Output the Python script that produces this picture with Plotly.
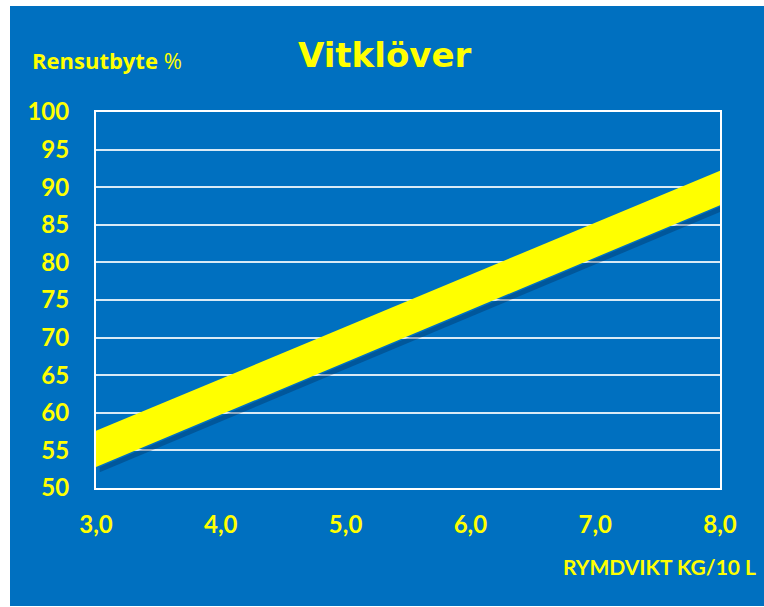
import plotly.graph_objects as go

# Data
x_vals = [3.0, 8.0]
band_lower = [52.8, 87.6]
band_upper = [57.6, 92.2]
x_ticks = [3, 4, 5, 6, 7, 8]
x_tick_labels = ["3,0", "4,0", "5,0", "6,0", "7,0", "8,0"]
y_ticks = [50, 55, 60, 65, 70, 75, 80, 85, 90, 95, 100]
y_tick_labels = [str(v) for v in y_ticks]

title_text = "Vitklöver"
y_title = "Rensutbyte %"
x_title = "RYMDVIKT KG/10 L"

BLUE = "#0070C0"
YELLOW = "#FFFF00"
FONT = "Lato"

fig = go.Figure()

# shadow under the band
fig.add_trace(go.Scatter(x=[x + 0.03 for x in x_vals], y=[v - 0.7 for v in band_lower],
                         mode="lines", line=dict(width=0), hoverinfo="skip", showlegend=False))
fig.add_trace(go.Scatter(x=[x + 0.03 for x in x_vals], y=band_lower,
                         mode="lines", line=dict(width=0), fill="tonexty",
                         fillcolor="rgba(0,30,70,0.3)", hoverinfo="skip", showlegend=False))

# band
fig.add_trace(go.Scatter(x=x_vals, y=band_lower, mode="lines", line=dict(width=0),
                         hoverinfo="skip", showlegend=False))
fig.add_trace(go.Scatter(x=x_vals, y=band_upper, mode="lines", line=dict(width=0),
                         fill="tonexty", fillcolor=YELLOW, hoverinfo="skip", showlegend=False))

L, R, T, B = 96, 44, 112, 119
W, H = 764, 607
pw, ph = W - L - R, H - T - B

def px_x(px):
    return (px - L) / pw

def px_y(py):
    return (H - B - py) / ph

fig.update_layout(
    width=W, height=H,
    margin=dict(l=L, r=R, t=T, b=B),
    paper_bgcolor="white",
    plot_bgcolor=BLUE,
    showlegend=False,
    shapes=[dict(type="rect", xref="paper", yref="paper",
                 x0=px_x(10), x1=px_x(764), y0=px_y(606), y1=px_y(6),
                 fillcolor=BLUE, line=dict(width=0), layer="below")],
    annotations=[
        dict(text="<b>" + title_text + "</b>", xref="paper", yref="paper",
             x=px_x(384), y=px_y(55), xanchor="center", yanchor="middle", showarrow=False,
             font=dict(family="DejaVu Sans", size=34, color=YELLOW)),
        dict(text="<b>Rensutbyte</b> %", xref="paper", yref="paper",
             x=px_x(30), y=px_y(60), xanchor="left", yanchor="middle", showarrow=False,
             font=dict(family="Open Sans", size=22, color=YELLOW)),
        dict(text="<b>" + x_title + "</b>", xref="paper", yref="paper",
             x=px_x(758), y=px_y(566), xanchor="right", yanchor="middle", showarrow=False,
             font=dict(family=FONT, size=21, color=YELLOW)),
    ],
)

fig.update_xaxes(range=[3, 8], tickvals=x_ticks, ticktext=["<b>%s</b>" % t for t in x_tick_labels],
                 showgrid=False, zeroline=False, showline=True, mirror=True,
                 linecolor="white", linewidth=2, layer="below traces",
                 tickfont=dict(family=FONT, size=24, color=YELLOW), ticklabelstandoff=14)
fig.update_yaxes(range=[50, 100], tickvals=y_ticks, ticktext=["<b>%s</b>" % t for t in y_tick_labels],
                 showgrid=True, gridcolor="rgba(255,255,255,0.85)", gridwidth=1.5,
                 zeroline=False, showline=True, mirror=True,
                 linecolor="white", linewidth=2, layer="below traces",
                 tickfont=dict(family=FONT, size=24, color=YELLOW), ticklabelstandoff=20)

fig.write_html("out.html", config={"displayModeBar": False},
               post_script="document.body.style.margin='0';")
